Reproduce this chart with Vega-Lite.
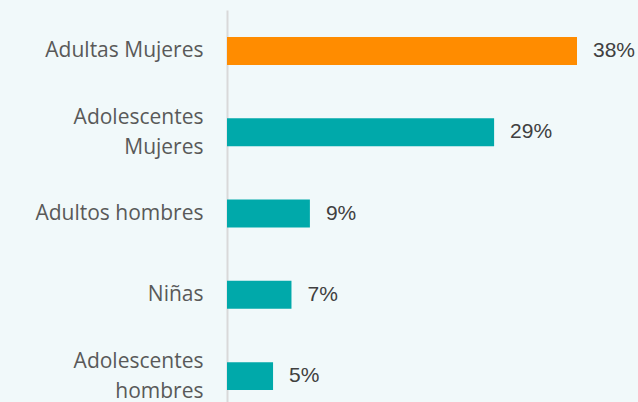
{
  "$schema": "https://vega.github.io/schema/vega-lite/v6.json",
  "autosize": "none",
  "width": 350,
  "height": 392,
  "padding": {"left": 227, "top": 10, "right": 61, "bottom": 0},
  "background": "#F1F9FA",
  "config": {"view": {"stroke": null}},
  "data": {"values": [
    {"categoria": "Adultas Mujeres", "valor": 0.38, "destacado": "si"},
    {"categoria": "Adolescentes Mujeres", "valor": 0.29, "destacado": "no"},
    {"categoria": "Adultos hombres", "valor": 0.09, "destacado": "no"},
    {"categoria": "Niñas", "valor": 0.07, "destacado": "no"},
    {"categoria": "Adolescentes hombres", "valor": 0.05, "destacado": "no"}
  ]},
  "encoding": {
    "y": {
      "field": "categoria", "type": "nominal", "sort": null,
      "scale": {"paddingInner": 0.656, "paddingOuter": 0.239, "align": 0.694},
      "axis": {
        "title": null, "ticks": false, "labelPadding": 24,
        "labelFont": "Open Sans", "labelFontSize": 21, "labelColor": "#595959",
        "labelLineHeight": 30, "labelLimit": 250,
        "labelExpr": "length(datum.value) > 16 ? split(datum.value, ' ') : datum.value",
        "labelOffset": {"condition": {"test": "length(datum.value) > 16", "value": -14}, "value": 0},
        "domainColor": "#D9D9D9", "domainWidth": 2
      }
    },
    "x": {
      "field": "valor", "type": "quantitative",
      "scale": {"domain": [0, 0.38], "nice": false},
      "axis": null
    }
  },
  "layer": [
    {
      "mark": {"type": "bar"},
      "encoding": {
        "color": {
          "field": "destacado", "type": "nominal",
          "scale": {"domain": ["si", "no"], "range": ["#FF8C00", "#00A9AA"]},
          "legend": null
        }
      }
    },
    {
      "mark": {"type": "text", "align": "left", "dx": 16, "font": "Liberation Sans", "fontSize": 21, "color": "#404040"},
      "encoding": {
        "text": {"field": "valor", "type": "quantitative", "format": ".0%"}
      }
    }
  ]
}
